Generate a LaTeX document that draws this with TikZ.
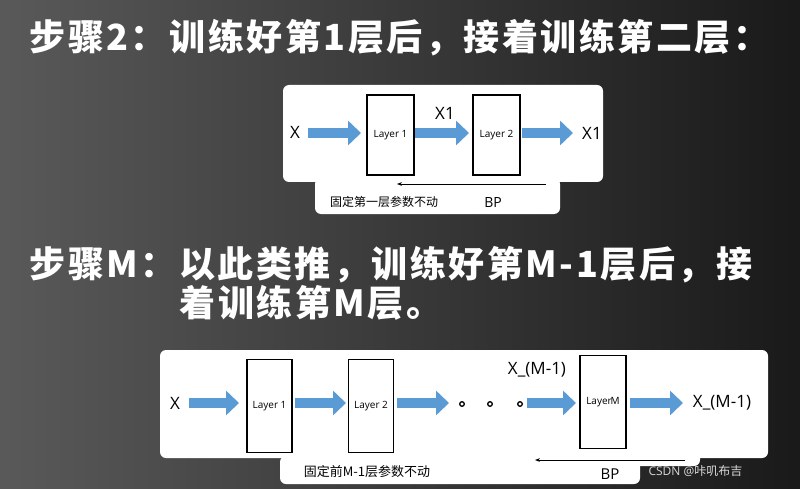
\documentclass[tikz,border=0pt]{standalone}
\usepackage{fontspec}
\setmainfont{Open Sans}
\newfontfamily\cjk{Noto Sans CJK SC}
\usetikzlibrary{arrows.meta,positioning}
\definecolor{arrblue}{HTML}{5B9BD5}
\begin{document}
\begin{tikzpicture}[x=1pt,y=-1pt,
  layer/.style={draw=black,line width=1.3pt,fill=white,minimum width=#1},
  blockarr/.style={arrblue,line width=10pt,-{Triangle[length=13pt,width=24pt]}},
  bparr/.style={line width=0.8pt,-{Stealth[length=5pt]}},
  lbl/.style={font=\fontsize{17}{17}\selectfont},
  title/.style={text=white,anchor=west,font=\cjk\bfseries\fontsize{36}{36}\selectfont\addfontfeature{LetterSpace=7}}]
\shade[left color=gray!70!black,right color=black!90] (0,0) rectangle (800,489);
\useasboundingbox (0,0) rectangle (800,489);
% titles
\node[title] (t1) at (26,38) {步骤2：训练好第1层后，接着训练第二层：};
\node[title] (t2) at (26,265) {步骤M：以此类推，训练好第M-1层后，接};
\node[title] (t3) at (176,303) {着训练第M层。};
% panel 1
\fill[white,rounded corners=6pt] (283,85) rectangle (603,182);
\fill[white,rounded corners=6pt] (315,178) rectangle (560,214);
\node[layer=47pt,minimum height=80pt] (a1) at (390.5,135) {\fontsize{10}{10}\selectfont Layer 1};
\node[layer=47pt,minimum height=80pt] (a2) at (496.5,135) {\fontsize{10}{10}\selectfont Layer 2};
\node[lbl] (ax) at (295,132) {X};
\node[lbl] (ax1) at (445,113) {X1};
\node[lbl] (aout) at (592,133) {X1};
\coordinate (p1) at (308,133); \coordinate (p2) at (361,133);
\coordinate (p3) at (415,133); \coordinate (p4) at (469,133);
\coordinate (p5) at (522,133); \coordinate (p6) at (573,133);
\draw[blockarr] (p1) -- (p2);
\draw[blockarr] (p3) -- (p4);
\draw[blockarr] (p5) -- (p6);
\coordinate (bp1s) at (546,184); \coordinate (bp1e) at (397,184);
\draw[bparr] (bp1s) -- (bp1e);
\node (c1) at (384,202) {\cjk\fontsize{12}{12}\selectfont 固定第一层参数不动};
\node[lbl,font=\fontsize{14}{14}\selectfont] (bp1) at (493,203) {BP};
% panel 2
\fill[white,rounded corners=6pt] (160,350) rectangle (768,458);
\fill[white,rounded corners=6pt] (520,450) rectangle (700,466);
\fill[white,rounded corners=6pt] (280,456) rectangle (640,484);
\node[layer=45pt,minimum height=93pt] (b1) at (269.5,406) {\fontsize{10}{10}\selectfont Layer 1};
\node[layer=45pt,minimum height=93pt] (b2) at (371,406) {\fontsize{10}{10}\selectfont Layer 2};
\node[layer=46pt,minimum height=93pt] (bm) at (603,402) {\fontsize{10}{10}\selectfont Layer\hspace{-1pt}M};
\node[lbl] (bx) at (175,403) {X};
\node[lbl] (bxm) at (537,370) {X\_(M-1)};
\node[lbl] (bout) at (722,403) {X\_(M-1)};
\foreach \d [count=\i] in {462,490,520}
  \draw[line width=1.3pt] (\d,404) circle (2.3pt) coordinate (dot\i);
\coordinate (q1) at (189,403); \coordinate (q2) at (239,403);
\coordinate (q3) at (295,403); \coordinate (q4) at (346,403);
\coordinate (q5) at (397,403); \coordinate (q6) at (449,403);
\coordinate (q7) at (527,403); \coordinate (q8) at (576,403);
\coordinate (q9) at (630,403); \coordinate (q10) at (683,403);
\draw[blockarr] (q1) -- (q2);
\draw[blockarr] (q3) -- (q4);
\draw[blockarr] (q5) -- (q6);
\draw[blockarr] (q7) -- (q8);
\draw[blockarr] (q9) -- (q10);
\coordinate (bp2s) at (685,460); \coordinate (bp2e) at (535,460);
\draw[bparr] (bp2s) -- (bp2e);
\node (c2) at (367,472) {\cjk\fontsize{13}{13}\selectfont 固定前M-1层参数不动};
\node[lbl,font=\fontsize{15}{15}\selectfont] (bp2) at (610,474) {BP};
\node[text=white!85!black,anchor=west,font=\fontsize{12}{12}\selectfont] (wm) at (645,471) {CSDN @\cjk 咔叽布吉};
\end{tikzpicture}
\end{document}
